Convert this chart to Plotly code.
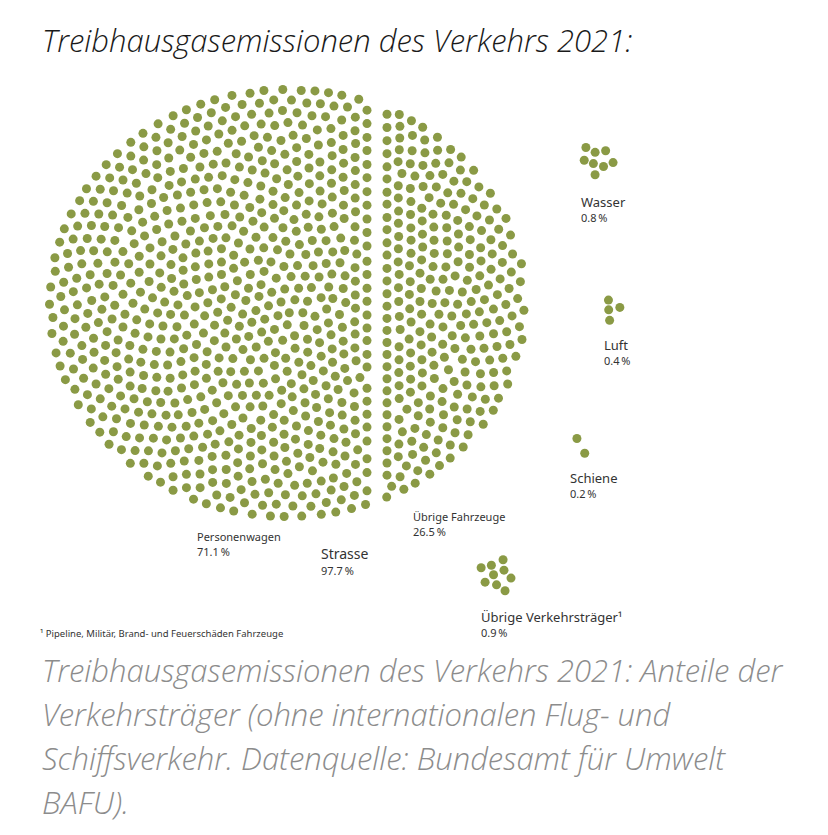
import numpy as np
import plotly.graph_objects as go

# ---------------- data ----------------
road_categories = ["Personenwagen", "Übrige Fahrzeuge"]
road_values = [71.1, 26.5]          # percent
road_total_label = "Strasse"
road_total_value = 97.7
other_categories = ["Wasser", "Luft", "Schiene", "Übrige Verkehrsträger¹"]
other_values = [0.8, 0.4, 0.2, 0.9]  # percent
percent_per_dot = 0.1

title_text = "Treibhausgasemissionen des Verkehrs 2021:"
caption_lines = [
    "Treibhausgasemissionen des Verkehrs 2021: Anteile der",
    "Verkehrsträger (ohne internationalen Flug- und",
    "Schiffsverkehr. Datenquelle: Bundesamt für Umwelt",
    "BAFU).",
]
footnote_text = "¹ Pipeline, Militär, Brand- und Feuerschäden Fahrzeuge"

# ---------------- layout helpers ----------------
W, H = 828, 835
DOT_COLOR = "#8a9a45"
TEXT_COLOR = "#333333"
GOLD = np.pi * (3 - np.sqrt(5))

# ellipse that holds the road dots (dot centres), and the split columns
CX, CY, RX, RY = 287.5, 303.0, 238.0, 213.5
LEFT_MAX_X, RIGHT_MIN_X = 367.0, 387.0


def sunflower(n, rot=0.0):
    i = np.arange(n) + 0.5
    r = np.sqrt(i / n)
    th = i * GOLD + rot
    return r * np.cos(th), r * np.sin(th)


def project(p, side):
    p = p.copy()
    if side == 0:
        p[:, 0] = np.minimum(p[:, 0], LEFT_MAX_X)
    else:
        p[:, 0] = np.maximum(p[:, 0], RIGHT_MIN_X)
    ex = (p[:, 0] - CX) / RX
    ey = (p[:, 1] - CY) / RY
    rr = np.sqrt(ex ** 2 + ey ** 2)
    s = np.where(rr > 1, 1 / np.maximum(rr, 1e-9), 1.0)
    p[:, 0] = CX + ex * s * RX
    p[:, 1] = CY + ey * s * RY
    return p


def region_area(side):
    gx, gy = np.meshgrid(np.arange(CX - RX, CX + RX, 1.0), np.arange(CY - RY, CY + RY, 1.0))
    inside = ((gx - CX) / RX) ** 2 + ((gy - CY) / RY) ** 2 <= 1
    inside &= (gx <= LEFT_MAX_X) if side == 0 else (gx >= RIGHT_MIN_X)
    return inside.sum()


def relax(p, side, iters=90):
    n = len(p)
    d0 = np.sqrt(2 * region_area(side) / (np.sqrt(3) * n)) * 1.02
    p = project(p, side)
    for _ in range(iters):
        diff = p[:, None, :] - p[None, :, :]
        dist = np.sqrt((diff ** 2).sum(-1)) + np.eye(n) * 1e9
        overlap = np.clip(d0 - dist, 0, None)
        force = (diff / dist[..., None] * overlap[..., None]).sum(1) * 0.45
        p = project(p + force, side)
    return p


def fmt(v):
    return f"{v:.1f}\u202f%"


fig = go.Figure()

# main ellipse of dots (road), split in two parts
n_road = [int(round(v / percent_per_dot)) for v in road_values]
N = sum(n_road)
u, v = sunflower(N)
order = np.argsort(u)
base = np.column_stack([CX + RX * u, CY + RY * v])
for k, idx in enumerate([order[: n_road[0]], order[n_road[0]:]]):
    pts = relax(base[idx], k)
    fig.add_trace(go.Scatter(
        x=pts[:, 0], y=pts[:, 1], mode="markers", name=road_categories[k],
        marker=dict(size=9, color=DOT_COLOR, line=dict(width=0)),
        hoverinfo="name",
    ))

# small clusters
cluster_centers = [(596, 160), (613, 311), (577, 445), (498, 575)]
cluster_rot = [1.0, 2.2, 3.5, 2.0]
cluster_label_pos = [(579, 202), (602, 345), (568, 478), (479, 617)]
for cat, val, (ccx, ccy), rot, (lx, ly) in zip(other_categories, other_values, cluster_centers,
                                               cluster_rot, cluster_label_pos):
    n = int(round(val / percent_per_dot))
    a, b = sunflower(n, rot=rot)
    R = 6.3 * np.sqrt(n) if n > 2 else 13.0
    fig.add_trace(go.Scatter(
        x=ccx + R * a, y=ccy + R * b, mode="markers", name=cat,
        marker=dict(size=9, color=DOT_COLOR, line=dict(width=0)),
        hoverinfo="name",
    ))
    fig.add_annotation(x=lx, y=ly, text=cat, showarrow=False, xanchor="left",
                       yanchor="middle", font=dict(family="Noto Sans", size=13, color=TEXT_COLOR))
    fig.add_annotation(x=lx, y=ly + 15, text=fmt(val), showarrow=False, xanchor="left",
                       yanchor="middle", font=dict(family="Noto Sans", size=11, color=TEXT_COLOR))

# road labels
road_label_pos = [(195, 536), (411, 516)]
for cat, val, (lx, ly) in zip(road_categories, road_values, road_label_pos):
    fig.add_annotation(x=lx, y=ly, text=cat, showarrow=False, xanchor="left",
                       yanchor="middle", font=dict(family="Noto Sans", size=11, color=TEXT_COLOR))
    fig.add_annotation(x=lx, y=ly + 15, text=fmt(val), showarrow=False, xanchor="left",
                       yanchor="middle", font=dict(family="Noto Sans", size=11, color=TEXT_COLOR))
fig.add_annotation(x=319, y=553, text=road_total_label, showarrow=False, xanchor="left",
                   yanchor="middle", font=dict(family="Noto Sans", size=14, color=TEXT_COLOR))
fig.add_annotation(x=319, y=570, text=fmt(road_total_value), showarrow=False, xanchor="left",
                   yanchor="middle", font=dict(family="Noto Sans", size=11, color=TEXT_COLOR))

# footnote
fig.add_annotation(x=38, y=633, text=footnote_text, showarrow=False, xanchor="left",
                   yanchor="middle", font=dict(family="Noto Sans", size=9.5, color=TEXT_COLOR))

# title
fig.add_annotation(x=40, y=40, text=title_text, showarrow=False, xanchor="left",
                   yanchor="middle",
                   font=dict(family="Open Sans", size=31, color="#1a1a1a", style="italic", weight=300))

# caption
for i, line in enumerate(caption_lines):
    fig.add_annotation(x=40, y=670 + 44 * i, text=line, showarrow=False, xanchor="left",
                       yanchor="middle",
                       font=dict(family="Open Sans", size=31, color="#8c8c8c", style="italic", weight=300))

fig.update_layout(
    width=W, height=H, margin=dict(l=0, r=0, t=0, b=0),
    paper_bgcolor="white", plot_bgcolor="white", showlegend=False,
    xaxis=dict(range=[0, W], visible=False, fixedrange=True),
    yaxis=dict(range=[H, 0], visible=False, fixedrange=True),
)

fig.write_html("out.html", config={"displayModeBar": False},
               post_script="document.body.style.margin='0';")
